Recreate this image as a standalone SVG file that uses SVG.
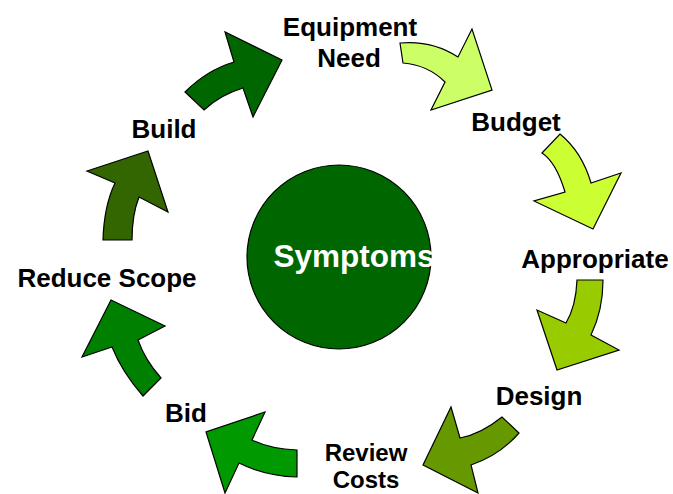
<svg xmlns="http://www.w3.org/2000/svg" width="673" height="494" viewBox="0 0 673 494">
<style>
.lbl{font-family:"Liberation Sans",Arial,sans-serif;font-weight:bold;font-size:26px;fill:#000;text-anchor:middle}
.sm{font-size:24px}
.arr{stroke:#000;stroke-width:1.2;stroke-linejoin:miter}
</style>
<rect width="673" height="494" fill="#fff"/>
<g id="center">
<circle cx="339" cy="257" r="92" fill="#006600" stroke="#000" stroke-width="1.2"/>
<text x="354" y="267" class="lbl" style="font-size:31.5px;fill:#fff">Symptoms</text>
</g>
<g id="equipment-need"><text x="350" y="36" class="lbl">Equipment</text><text x="349" y="67" class="lbl">Need</text></g>
<g id="budget"><text x="516" y="131" class="lbl">Budget</text></g>
<g id="appropriate"><text x="595" y="268" class="lbl">Appropriate</text></g>
<g id="design"><text x="539" y="405" class="lbl">Design</text></g>
<g id="review-costs"><text x="366" y="461" class="lbl sm">Review</text><text x="366" y="488" class="lbl sm">Costs</text></g>
<g id="bid"><text x="186" y="422" class="lbl">Bid</text></g>
<g id="reduce-scope"><text x="107" y="287" class="lbl">Reduce Scope</text></g>
<g id="build"><text x="164" y="138" class="lbl">Build</text></g>
<g id="connectors">
<path class="arr" fill="#CCFF66" d="M400,43 Q432,40 458,57 L472,29 L492,90 L431,110 L445,82 Q428,65 403,63 Z"/>
<path class="arr" fill="#CCFF33" d="M542,153 Q556,162 565,192 L534,201 L593,229 L621,173 L591,183 Q582,152 560,134 Z"/>
<path class="arr" fill="#99CC00" d="M577,280 Q576,306 566,323 L537,310 L557,370 L619,350 L591,335 Q603,310 603,280 Z"/>
<path class="arr" fill="#669900" d="M502,417 Q481,434 460,438 L451,407 L423,465 L478,493 L471,465 Q500,455 519,433 Z"/>
<path class="arr" fill="#009900" d="M297,450 Q270,449 252,440 L265,412 L206,432 L225,493 L239,463 Q265,476 297,477 Z"/>
<path class="arr" fill="#008000" d="M143,396 Q122,372 112,347 L82,357 L111,300 L165,326 L138,340 Q145,360 161,378 Z"/>
<path class="arr" fill="#336600" d="M103,240 Q104,206 115,183 L87,171 L148,151 L168,212 L139,197 Q132,215 132,240 Z"/>
<path class="arr" fill="#006600" d="M185,92 Q207,70 234,62 L225,32 L282,60 L253,117 L243,88 Q220,95 204,110 Z"/>
</g>
</svg>
